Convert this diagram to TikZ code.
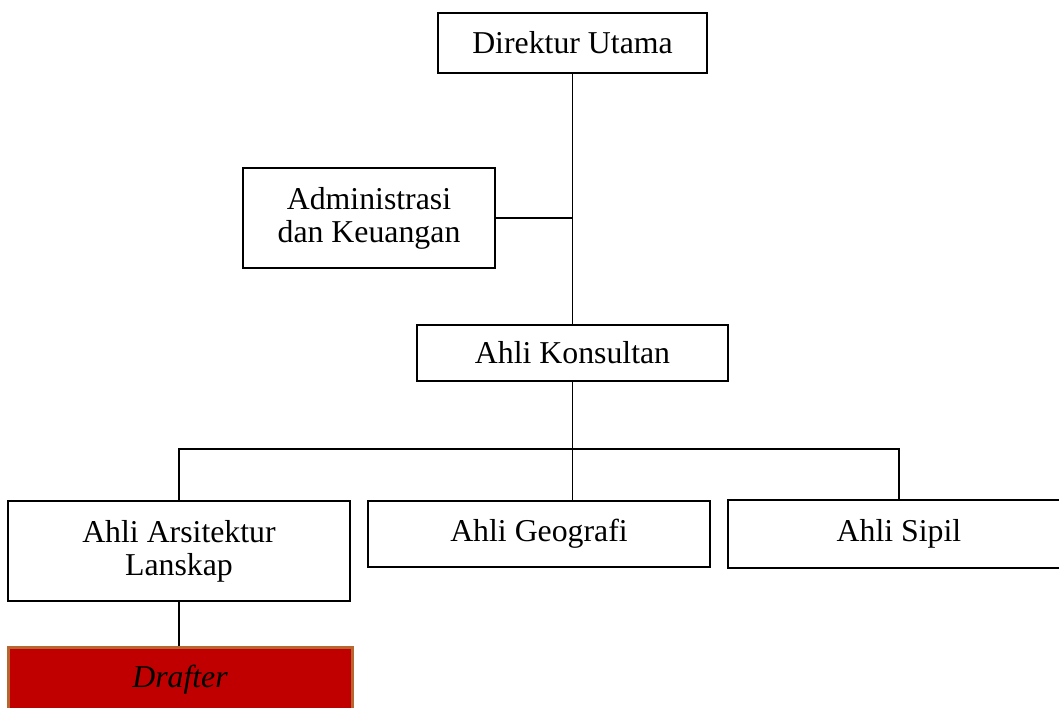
\documentclass[tikz,border=0pt]{standalone}
\usepackage{fontspec}
\setmainfont{Liberation Serif}
\usepackage{tikz}
\usetikzlibrary{positioning}
\definecolor{draftred}{HTML}{C00000}
\definecolor{draftedge}{HTML}{B8652F}
\tikzstyle{line} = [draw, line width=0.9pt]
\tikzstyle{jabatan} = [rectangle, draw, line width=0.9pt, align=center, inner sep=0pt, font=\fontsize{15.9}{16.6}\selectfont]
\tikzstyle{drafter} = [jabatan, fill=draftred, draw=draftedge, line width=1.5pt, font=\fontsize{15.9}{16.6}\selectfont\itshape]

\begin{document}
\begin{tikzpicture}[x=0.5pt, y=-0.5pt]
		\useasboundingbox (0,0) rectangle (1059,707);
		\node [jabatan, minimum width=134.5pt, minimum height=30pt] (direktur) at (572.5,43) {Direktur Utama};
		\node [jabatan, minimum width=126pt, minimum height=50pt] (admin) at (369,218) {Administrasi\\dan Keuangan};
		\node [jabatan, minimum width=155.5pt, minimum height=28pt] (konsultan) at (572.5,353) {Ahli Konsultan};
		\node [jabatan, minimum width=171pt, minimum height=50pt] (arsitek) at (179,551) {Ahli Arsitektur\\Lanskap};
		\node [jabatan, minimum width=171pt, minimum height=33pt] (geografi) at (539,534) {Ahli Geografi};
		\node [jabatan, minimum width=171pt, minimum height=34pt] (sipil) at (899,534) {Ahli Sipil};
		\node [drafter, minimum width=172pt, minimum height=33pt] (drafter) at (180,680) {Drafter};
		
		\coordinate [below=33.5pt of konsultan.south] (bus);
		
		\path [line] (direktur.south) to (konsultan.north);
		\path [line] (admin.east) to (admin.east -| direktur.south);
		\path [line] (konsultan.south) to (konsultan.south |- geografi.north);
		\path [line] (arsitek.north) |- (bus) -| (sipil.north);
		\path [line] (arsitek.south) to (arsitek.south |- drafter.north);
		
	\end{tikzpicture}
\end{document}
